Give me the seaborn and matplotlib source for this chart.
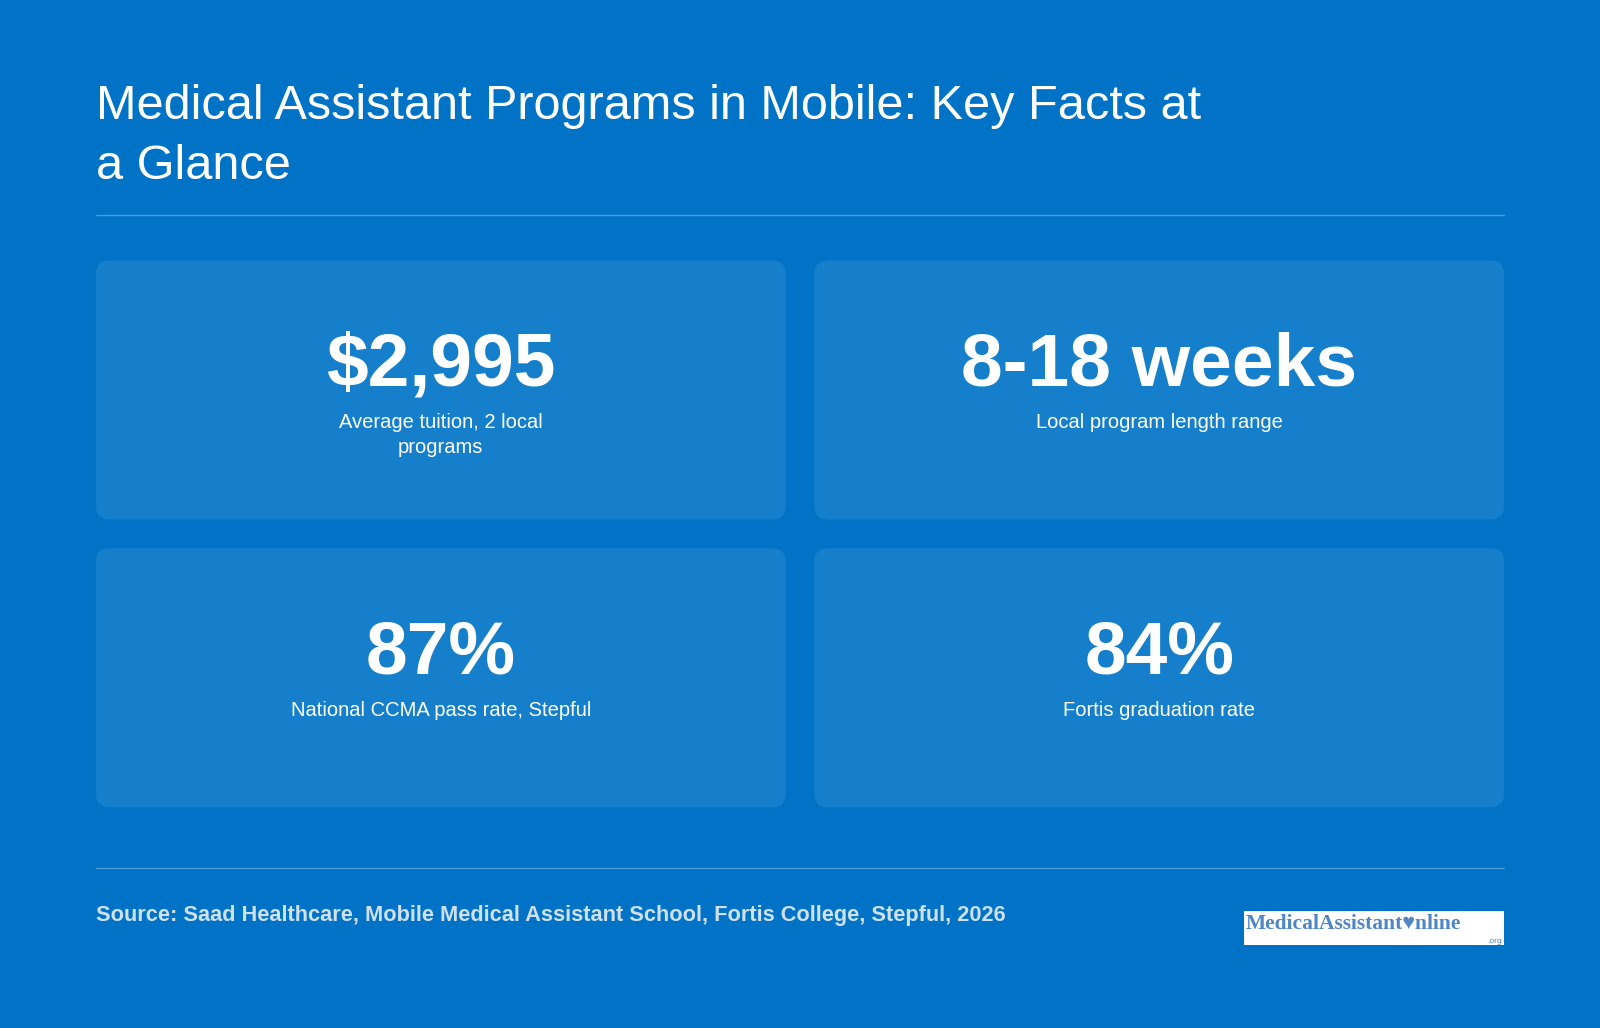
import matplotlib
matplotlib.use("Agg")
import matplotlib.pyplot as plt
from matplotlib.patches import FancyBboxPatch, Rectangle
import seaborn as sns

# Data
title = "Medical Assistant Programs in Mobile: Key Facts at\na Glance"
stat_values = ["$2,995", "8-18 weeks", "87%", "84%"]
stat_labels = ["Average tuition, 2 local\nprograms", "Local program length range",
               "National CCMA pass rate, Stepful", "Fortis graduation rate"]
source = "Source: Saad Healthcare, Mobile Medical Assistant School, Fortis College, Stepful, 2026"

BG = "#0073C6"
CARD = "#157FCB"

sns.set_theme(style="white")
plt.rcParams['font.family'] = ['Liberation Sans', 'DejaVu Sans']

W, H = 1568, 1007
fig = plt.figure(figsize=(16, 10.28), dpi=100, facecolor=BG)
ax = fig.add_axes([0, 0, 1, 1])
ax.set_xlim(0, W)
ax.set_ylim(H, 0)
ax.axis("off")
ax.set_facecolor(BG)

ax.text(94, 82, title, color="white", fontsize=35, va="top", ha="left", linespacing=1.45)
ax.plot([94, 1474], [211, 211], color="#4A9BD6", lw=1)

# cards
cols = [(94, 770), (798, 1474)]
rows = [(255, 509), (537, 791)]
for i, (val, lab) in enumerate(zip(stat_values, stat_labels)):
    x0, x1 = cols[i % 2]
    y0, y1 = rows[i // 2]
    ax.add_patch(FancyBboxPatch((x0 + 14, y0 + 14), x1 - x0 - 28, y1 - y0 - 28,
                                boxstyle="round,pad=14", fc=CARD, ec="none"))
    cx = (x0 + x1) / 2
    ax.text(cx, y0 + 104, val, color="white", fontsize=54, fontweight="bold",
            ha="center", va="center")
    ax.text(cx, y0 + 150, lab, color="white", fontsize=14.5, ha="center", va="top",
            linespacing=1.35)

ax.plot([94, 1474], [850, 850], color="#4A9BD6", lw=1)
ax.text(94, 897, source, color="#CFE0F1", fontsize=15.7, fontweight="bold",
        ha="left", va="center")

# logo
ax.add_patch(Rectangle((1219, 892), 255, 34, fc="white", ec="none"))
ax.text(1221, 905, "MedicalAssistant\u2665nline", color="#4F86C6", fontsize=15.5,
        family=["Liberation Serif", "DejaVu Sans"], fontweight="bold", ha="left", va="center")
ax.text(1472, 922, ".org", color="#4F86C6", fontsize=6, ha="right", va="center")

fig.savefig("out.png", dpi=100, facecolor=BG)
